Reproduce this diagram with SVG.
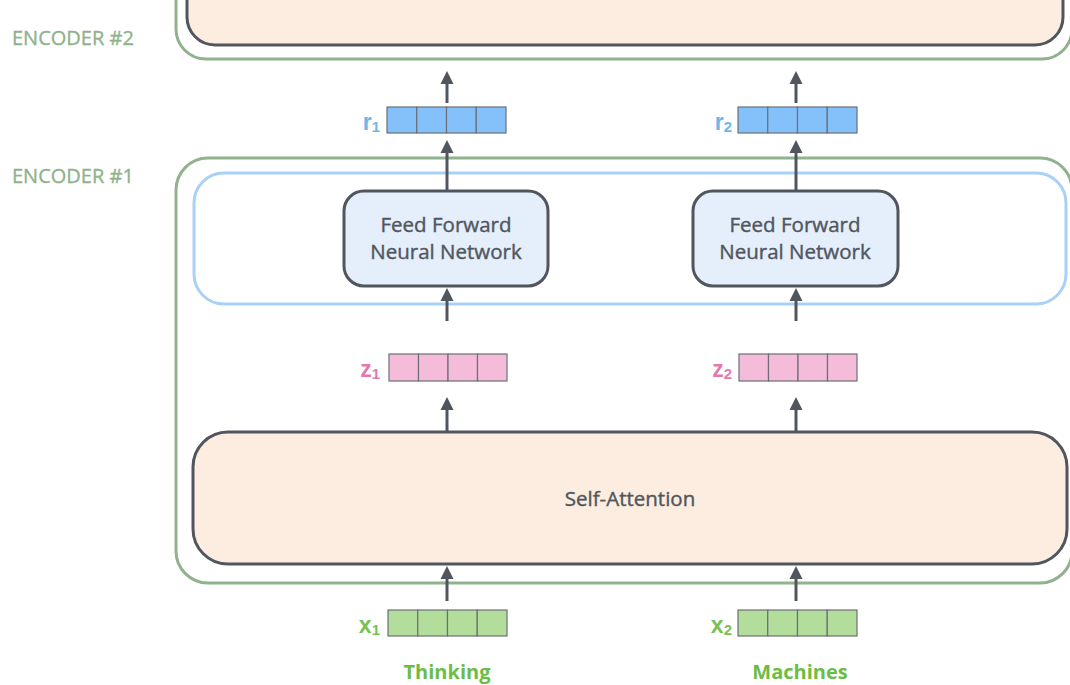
<svg xmlns="http://www.w3.org/2000/svg" width="1070" height="685" viewBox="0 0 1070 685">
<defs>
<style>
.enc{fill:none;stroke:#90b28d;stroke-width:3}
.ff{fill:#e5eefb;stroke:#51565e;stroke-width:3}
.sa{fill:#fcede0;stroke:#51565e;stroke-width:3}
.sub{fill:none;stroke:#a9d1f7;stroke-width:3}
.cell{stroke:#6b6f76;stroke-width:1.2}
.r{fill:#84c1fa}.z{fill:#f4bcd9}.x{fill:#b2dd9b}
.lbl{font-family:"Open Sans","Liberation Sans",sans-serif;font-size:20px;fill:#8fb28c;stroke:#8fb28c;stroke-width:0.35}
.t{font-family:"Open Sans","Liberation Sans",sans-serif;font-size:20.5px;fill:#51565e;stroke:#51565e;stroke-width:0.4;text-anchor:middle}
.v{font-family:"Liberation Sans",Arial,sans-serif;font-weight:bold;font-size:23px;text-anchor:end}
.v tspan{font-size:15px}
.w{font-family:"Open Sans","Liberation Sans",sans-serif;font-weight:bold;font-size:20px;fill:#6cbd45;text-anchor:middle}
.arr{stroke:#51565e;stroke-width:3;fill:none}
</style>
<marker id="ah" viewBox="0 -7 13 14" refX="0" refY="0" markerWidth="13" markerHeight="14" markerUnits="userSpaceOnUse" orient="auto">
<path d="M0,-6.5 L13,0 L0,6.5 z" fill="#51565e"/>
</marker>
</defs>

<g id="encoder2">
<rect class="enc" x="176" y="-40" width="896" height="99" rx="30"/>
<rect class="sa" x="187" y="-40" width="876" height="85" rx="28"/>
<text class="lbl" x="12" y="45">ENCODER #2</text>
</g>

<g id="encoder1">
<rect class="enc" x="176" y="158" width="896" height="425" rx="32"/>
<text class="lbl" x="12" y="183">ENCODER #1</text>
</g>

<g id="ffn-layer">
<rect class="sub" x="194" y="173" width="872" height="131" rx="30"/>
</g>

<g id="ffn1">
<rect class="ff" x="344" y="191" width="204" height="95" rx="20"/>
<text class="t" x="446" y="232">Feed Forward</text>
<text class="t" x="446" y="259">Neural Network</text>
</g>
<g id="ffn2">
<rect class="ff" x="693" y="191" width="205" height="95" rx="20"/>
<text class="t" x="795" y="232">Feed Forward</text>
<text class="t" x="795" y="259">Neural Network</text>
</g>

<g id="self-attention">
<rect class="sa" x="193" y="432" width="874" height="132" rx="35"/>
<text class="t" x="630" y="506">Self-Attention</text>
</g>

<g id="r1">
<rect class="cell r" x="387" y="107" width="29.75" height="26"/>
<rect class="cell r" x="416.75" y="107" width="29.75" height="26"/>
<rect class="cell r" x="446.5" y="107" width="29.75" height="26"/>
<rect class="cell r" x="476.25" y="107" width="29.75" height="26"/>
<text class="v" x="380" y="130" fill="#6db7e8">r<tspan dy="2">1</tspan></text>
</g>
<g id="r2">
<rect class="cell r" x="738" y="107" width="29.75" height="26"/>
<rect class="cell r" x="767.75" y="107" width="29.75" height="26"/>
<rect class="cell r" x="797.5" y="107" width="29.75" height="26"/>
<rect class="cell r" x="827.25" y="107" width="29.75" height="26"/>
<text class="v" x="732" y="130" fill="#6db7e8">r<tspan dy="2">2</tspan></text>
</g>

<g id="z1">
<rect class="cell z" x="389" y="354" width="29.5" height="27"/>
<rect class="cell z" x="418.5" y="354" width="29.5" height="27"/>
<rect class="cell z" x="448" y="354" width="29.5" height="27"/>
<rect class="cell z" x="477.5" y="354" width="29.5" height="27"/>
<text class="v" x="380" y="377" fill="#e27aae">z<tspan dy="2">1</tspan></text>
</g>
<g id="z2">
<rect class="cell z" x="739" y="354" width="29.5" height="27"/>
<rect class="cell z" x="768.5" y="354" width="29.5" height="27"/>
<rect class="cell z" x="798" y="354" width="29.5" height="27"/>
<rect class="cell z" x="827.5" y="354" width="29.5" height="27"/>
<text class="v" x="732" y="377" fill="#e27aae">z<tspan dy="2">2</tspan></text>
</g>

<g id="x1">
<rect class="cell x" x="388" y="610" width="29.75" height="26"/>
<rect class="cell x" x="417.75" y="610" width="29.75" height="26"/>
<rect class="cell x" x="447.5" y="610" width="29.75" height="26"/>
<rect class="cell x" x="477.25" y="610" width="29.75" height="26"/>
<text class="v" x="380" y="633" fill="#77c155">x<tspan dy="2">1</tspan></text>
<text class="w" x="447" y="679">Thinking</text>
</g>
<g id="x2">
<rect class="cell x" x="738" y="610" width="29.75" height="26"/>
<rect class="cell x" x="767.75" y="610" width="29.75" height="26"/>
<rect class="cell x" x="797.5" y="610" width="29.75" height="26"/>
<rect class="cell x" x="827.25" y="610" width="29.75" height="26"/>
<text class="v" x="732" y="633" fill="#77c155">x<tspan dy="2">2</tspan></text>
<text class="w" x="800" y="679">Machines</text>
</g>

<g id="connectors">
<line class="arr" x1="447" y1="103" x2="447" y2="84" marker-end="url(#ah)"/>
<line class="arr" x1="796" y1="103" x2="796" y2="84" marker-end="url(#ah)"/>
<line class="arr" x1="447" y1="191" x2="447" y2="153" marker-end="url(#ah)"/>
<line class="arr" x1="796" y1="191" x2="796" y2="153" marker-end="url(#ah)"/>
<line class="arr" x1="447" y1="321" x2="447" y2="301" marker-end="url(#ah)"/>
<line class="arr" x1="796" y1="321" x2="796" y2="301" marker-end="url(#ah)"/>
<line class="arr" x1="447" y1="432" x2="447" y2="410" marker-end="url(#ah)"/>
<line class="arr" x1="796" y1="432" x2="796" y2="410" marker-end="url(#ah)"/>
<line class="arr" x1="447" y1="601" x2="447" y2="579" marker-end="url(#ah)"/>
<line class="arr" x1="796" y1="601" x2="796" y2="579" marker-end="url(#ah)"/>
</g>
</svg>
